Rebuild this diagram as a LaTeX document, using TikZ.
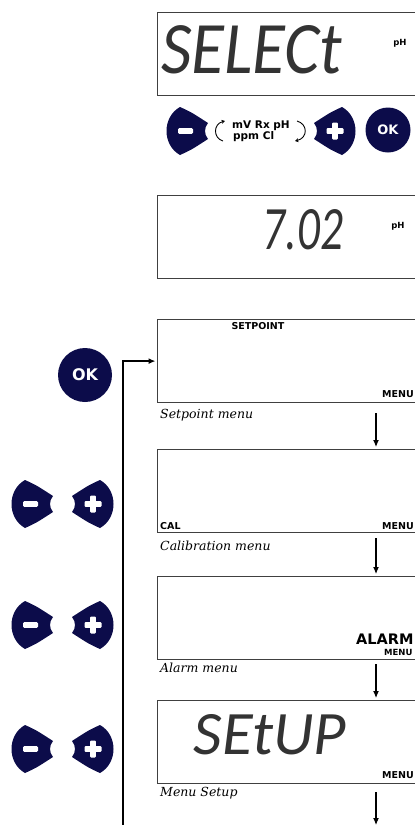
\documentclass[tikz,border=0pt]{standalone}
\usepackage{fontspec}
\usepackage{graphicx}
\usetikzlibrary{arrows.meta,calc}

\newfontfamily\lcdfont{Carlito}
\newfontfamily\keyfont{DejaVu Sans}
\newfontfamily\capfont{DejaVu Serif}
\definecolor{keyblue}{RGB}{12,12,74}

\tikzset{
    display/.style={draw=black!75, line width=1.2pt, anchor=north west, inner sep=0pt,
        minimum width=270pt, minimum height=83pt},
    lcd/.style={text=black!80, inner sep=0pt},
    tag/.style={font=\keyfont\bfseries\fontsize{9.5}{10}\selectfont, inner sep=0pt},
    caption/.style={font=\capfont\itshape\fontsize{12.5}{13}\selectfont, inner sep=0pt, anchor=west},
    okkey/.style={circle, fill=keyblue, text=white, inner sep=0pt},
    flow/.style={line width=1.1pt, -{Latex[length=7pt,width=6pt]}},
    backline/.style={line width=1.5pt, -{Latex[length=7pt,width=6pt]}, shorten >=1.5pt},
    minuskey/.pic={
        \fill[keyblue] (-8,-24) .. controls (3,-19) .. (20,-8) .. controls (16,-3) and (16,3) .. (20,8)
            .. controls (3,19) .. (-8,24) .. controls (-26,14) and (-26,-14) .. cycle;
        \fill[white, rounded corners=1.2pt] (-10,-2.8) rectangle (5,2.8);
    },
    pluskey/.pic={
        \fill[keyblue] (8,-24) .. controls (-3,-19) .. (-20,-8) .. controls (-16,-3) and (-16,3) .. (-20,8)
            .. controls (-3,19) .. (8,24) .. controls (26,14) and (26,-14) .. cycle;
        \fill[white, rounded corners=1pt] (-7.5,-2.8) rectangle (9.5,2.8);
        \fill[white, rounded corners=1pt] (-1.8,-8.5) rectangle (3.8,8.5);
    }
}

\begin{document}
\begin{tikzpicture}[x=1pt, y=-1pt]
    % Page frame, the displays run off its right edge
    \path[use as bounding box, clip] (0,0) rectangle (415,825);

    % Define the points of the flow lines
    \coordinate (arrowx) at (376,0);
    \coordinate (loopfoot) at (123,825);
    \coordinate (exit) at (376,825);

    % Draw the displays
    \node[display] (select) at (157,12) {};
    \node[display] (reading) at (157,195) {};
    \node[display] (setpoint) at (157,319) {};
    \node[display] (calib) at (157,449) {};
    \node[display] (alarm) at (157,576) {};
    \node[display] (setup) at (157,700) {};

    % Digits on the displays
    \node[lcd] (selecttext) at (252,50) {\resizebox{181pt}{48pt}{\lcdfont\itshape SELECt}};
    \node[lcd] (readingtext) at (303,230) {\resizebox{80pt}{40pt}{\lcdfont\itshape 7.02}};
    \node[lcd] (setuptext) at (270,735) {\resizebox{152pt}{40pt}{\lcdfont\itshape SEtUP}};
    \node[tag, font=\keyfont\bfseries\fontsize{8.5}{9}\selectfont] (selectunit) at (400,43) {pH};
    \node[tag, font=\keyfont\bfseries\fontsize{8.5}{9}\selectfont] (readingunit) at (398,226) {pH};

    % Small words on the displays
    \node[tag] (setpointtag) at (258,326) {SETPOINT};
    \node[tag, anchor=west] (setpointmenu) at (382,394) {MENU};
    \node[tag, anchor=west] (caltag) at (160,526) {CAL};
    \node[tag, anchor=west] (calibmenu) at (382,526) {MENU};
    \node[tag, anchor=west, font=\keyfont\bfseries\fontsize{14.5}{15}\selectfont] (alarmtag) at (356,639) {ALARM};
    \node[tag, anchor=west, font=\keyfont\bfseries\fontsize{8.5}{9}\selectfont] (alarmmenu) at (384,652) {MENU};
    \node[tag, anchor=west] (setupmenu) at (382,775) {MENU};

    % Captions under the displays
    \node[caption] (setpointcap) at (160,415) {Setpoint menu};
    \node[caption] (calibcap) at (160,546) {Calibration menu};
    \node[caption] (alarmcap) at (160,668) {Alarm menu};
    \node[caption] (setupcap) at (160,793) {Menu Setup};

    % Keys of the unit selection
    \pic at (188,131) {minuskey};
    \pic at (334,131) {pluskey};
    \node[okkey, minimum size=45pt, font=\keyfont\bfseries\fontsize{13}{13}\selectfont] (okselect) at (388,130) {OK};
    \node[tag, anchor=west, font=\keyfont\bfseries\fontsize{10.5}{11}\selectfont] (unitstop) at (232,126) {mV Rx pH};
    \node[tag, anchor=west, font=\keyfont\bfseries\fontsize{10.5}{11}\selectfont] (unitsbottom) at (233,137) {ppm Cl};
    \draw[line width=0.9pt, -{Stealth[length=3.5pt,width=4pt]}] (223,141) .. controls (213,138) and (213,124) .. (225,121);
    \draw[line width=0.9pt, -{Stealth[length=3.5pt,width=4pt]}] (297,121) .. controls (308,124) and (308,138) .. (295,141);

    % Keys beside the menus
    \node[okkey, minimum size=54pt, font=\keyfont\bfseries\fontsize{16}{16}\selectfont] (okmenu) at (85,375) {OK};
    \foreach \y in {504,625,749} {
        \pic at (33,\y) {minuskey};
        \pic at (92,\y) {pluskey};
    }

    % Draw the flow
    \draw[flow] ($(setpoint.south -| arrowx)+(0,10)$) -- ($(calib.north -| arrowx)+(0,-2)$);
    \draw[flow] ($(calib.south -| arrowx)+(0,5)$) -- ($(alarm.north -| arrowx)+(0,-2)$);
    \draw[flow] ($(alarm.south -| arrowx)+(0,4)$) -- ($(setup.north -| arrowx)+(0,-2)$);
    \draw[flow] ($(setup.south -| arrowx)+(0,8)$) -- (exit);
    \draw[backline] (loopfoot) |- (setpoint.west);

\end{tikzpicture}
\end{document}
